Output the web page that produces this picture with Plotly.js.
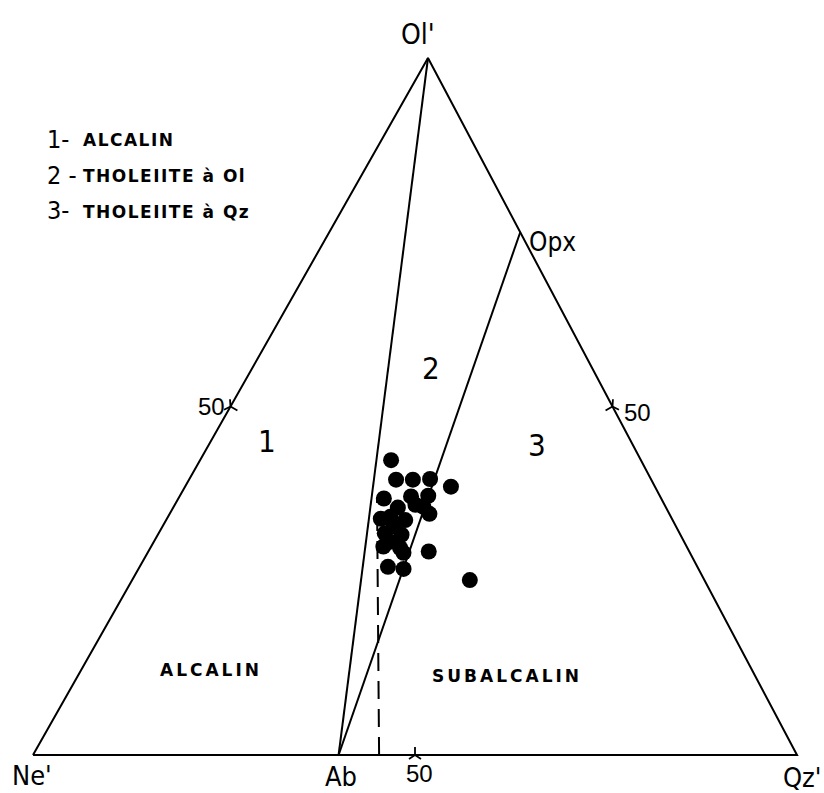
<!DOCTYPE html>
<html><head><meta charset="utf-8">
<script src="https://cdn.plot.ly/plotly-3.0.1.min.js"></script>
<style>html,body{margin:0;padding:0;background:#fff;}</style>
</head><body><div id="chart" style="width:824px;height:793px;"></div>
<script>
// ---- Data (ternary %, Ol' / Qz' ; Ne' = 100 - Ol' - Qz') ----
const vertexNames = ["Ne'", "Qz'", "Ol'"];
const vertexOl = [0, 0, 100];
const vertexQz = [0, 100, 0];

const abPoint = {ol: 0, qz: 40};      // Ab
const opxPoint = {ol: 75, qz: 25};    // Opx
const dashOl = [0, 37];
const dashQz = [45.3, 25.9];

const sampleOl = [42.3, 39.5, 39.5, 39.6, 38.5, 36.8, 37.1, 37.2, 35.5, 35.6, 35.9, 34.6, 33.9,
                  33.7, 34.2, 31.8, 31.6, 29.9, 29.7, 29.0, 29.2, 27.0, 26.7, 25.1, 32.8, 30.6];
const sampleQz = [25.0, 27.1, 29.3, 31.5, 34.8, 26.9, 30.3, 32.5, 29.4, 32.7, 31.5, 34.0, 28.0,
                  31.3, 29.1, 29.6, 31.9, 30.4, 32.7, 33.5, 36.7, 32.5, 34.7, 44.2, 30.2, 30.9];
const sampleNe = sampleOl.map((o, i) => +(100 - o - sampleQz[i]).toFixed(1));

const tickLabels = ["50", "50", "50"];
const tickOl = [50, 50, 0];
const tickQz = [0, 50, 50];

const fieldLabels = ["1", "2", "3", "ALCALIN", "SUBALCALIN"];
const fieldOl = [45.0, 55.5, 44.5, 12.2, 11.3];
const fieldQz = [7.3, 23.4, 43.0, 17.0, 56.2];

const legendNumbers = ["1-", "2 -", "3-"];
const legendTexts = ["ALCALIN", "THOLEIITE à Ol", "THOLEIITE à Qz"];

// ---- projection ----
const APEX_SKEW = 0.517;  // horizontal position of the Ol' apex in the drawing
function toX(ol, qz) { return qz / 100 + APEX_SKEW * ol / 100; }
function toY(ol) { return ol / 100; }

const NARROW = "DejaVu Sans Condensed, Liberation Sans Narrow, DejaVu Sans, sans-serif";
const BOLDF = "DejaVu Sans, Verdana, sans-serif";
function nfont(size) { return {family: NARROW, size: size, color: '#000', stretch: 'condensed'}; }

const traces = [];
// triangle
const triOl = [vertexOl[0], vertexOl[1], vertexOl[2], vertexOl[0]];
const triQz = [vertexQz[0], vertexQz[1], vertexQz[2], vertexQz[0]];
traces.push({type: 'scatter', mode: 'lines', x: triOl.map((o, i) => toX(o, triQz[i])), y: triOl.map(toY),
  line: {color: '#000', width: 2}, hoverinfo: 'skip'});
// Ol' - Ab
traces.push({type: 'scatter', mode: 'lines', x: [toX(vertexOl[2], vertexQz[2]), toX(abPoint.ol, abPoint.qz)],
  y: [toY(vertexOl[2]), toY(abPoint.ol)], line: {color: '#000', width: 2}});
// Opx - Ab
traces.push({type: 'scatter', mode: 'lines', x: [toX(opxPoint.ol, opxPoint.qz), toX(abPoint.ol, abPoint.qz)],
  y: [toY(opxPoint.ol), toY(abPoint.ol)], line: {color: '#000', width: 2}});
// dashed
traces.push({type: 'scatter', mode: 'lines', x: dashOl.map((o, i) => toX(o, dashQz[i])), y: dashOl.map(toY),
  line: {color: '#000', width: 2, dash: '18px,10px'}});
// ticks
traces.push({type: 'scatter', mode: 'markers', x: tickOl.map((o, i) => toX(o, tickQz[i])), y: tickOl.map(toY),
  marker: {symbol: 'y-up-open', size: 10, color: '#000', angle: [120, -120, 0], line: {color: '#000', width: 1.8}}});
// samples
traces.push({type: 'scatter', mode: 'markers', x: sampleOl.map((o, i) => toX(o, sampleQz[i])), y: sampleOl.map(toY),
  text: sampleNe.map(n => "Ne' " + n), marker: {color: '#000', size: 16, line: {width: 0}}});

const annotations = [];
function ann(x, y, text, font, opts) {
  annotations.push(Object.assign({x: x, y: y, xref: 'x', yref: 'y', text: text, showarrow: false, font: font}, opts || {}));
}
// vertex labels
ann(toX(0, 0), toY(0), vertexNames[0], nfont(27), {xshift: -1, yshift: -20});
ann(toX(0, 100), toY(0), vertexNames[1], nfont(27), {xshift: 5, yshift: -22});
ann(toX(100, 0), toY(100), vertexNames[2], nfont(28), {xshift: -10, yshift: 24});
ann(toX(abPoint.ol, abPoint.qz), toY(abPoint.ol), "Ab", nfont(27), {xshift: 2, yshift: -21});
ann(toX(opxPoint.ol, opxPoint.qz), toY(opxPoint.ol), "Opx", nfont(26), {xanchor: 'left', xshift: 7, yshift: -10});
// tick labels
const TF = {family: 'Liberation Sans, Arial, sans-serif', size: 24, color: '#000'};
ann(toX(tickOl[0], tickQz[0]), toY(tickOl[0]), tickLabels[0], TF, {xanchor: 'right', xshift: -3, yshift: 0});
ann(toX(tickOl[1], tickQz[1]), toY(tickOl[1]), tickLabels[1], TF, {xanchor: 'left', xshift: 10, yshift: -6});
ann(toX(tickOl[2], tickQz[2]), toY(tickOl[2]), tickLabels[2], TF, {xshift: 4, yshift: -18});
// field labels
for (let i = 0; i < 3; i++) ann(toX(fieldOl[i], fieldQz[i]), toY(fieldOl[i]), fieldLabels[i], nfont(31));
for (let i = 3; i < 5; i++) ann(toX(fieldOl[i], fieldQz[i]), toY(fieldOl[i]),
  '<span style="letter-spacing:3px">' + fieldLabels[i] + '</span>', {family: BOLDF, size: 17, color: '#000', weight: 'bold'});
// legend
const legendY = [139, 175, 211];
legendNumbers.forEach((num, i) => {
  annotations.push({xref: 'paper', yref: 'paper', x: 45 / 824, y: 1 - legendY[i] / 793, xanchor: 'left', yanchor: 'middle',
    showarrow: false, text: num, font: nfont(25)});
  annotations.push({xref: 'paper', yref: 'paper', x: 81 / 824, y: 1 - (legendY[i] + 1) / 793, xanchor: 'left', yanchor: 'middle',
    showarrow: false, text: '<span style="letter-spacing:1.5px">' + legendTexts[i] + '</span>',
    font: {family: BOLDF, size: 17, color: '#000', weight: 'bold'}});
});

const layout = {
  width: 824, height: 793, margin: {l: 0, r: 0, t: 0, b: 0},
  paper_bgcolor: '#fff', plot_bgcolor: '#fff', showlegend: false,
  xaxis: {range: [-33 / 764, (824 - 33) / 764], visible: false, fixedrange: true},
  yaxis: {range: [-(793 - 755) / 697, 1 + 58 / 697], visible: false, fixedrange: true},
  annotations: annotations
};
Plotly.newPlot('chart', traces, layout, {displayModeBar: false, staticPlot: true});
</script></body></html>
